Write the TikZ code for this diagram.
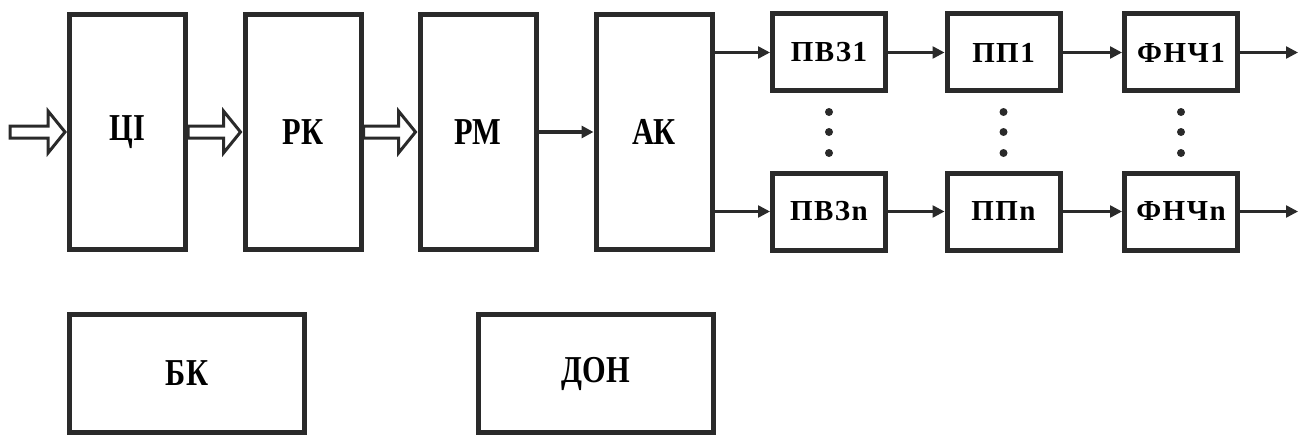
\documentclass[tikz,border=0pt]{standalone}
\usepackage{fontspec}
\setmainfont{Liberation Serif}
\newfontfamily\narrowserif[FakeStretch=0.8]{Liberation Serif}
\newfontfamily\wideserif[LetterSpace=5]{Liberation Serif}
\usetikzlibrary{arrows.meta,calc}
\definecolor{ink}{HTML}{2A2A2A}

% hollow (outlined) arrow between two points
\newcommand\hollowarrow[2]{%
  \draw[hollow] let \p1=(#1), \p2=(#2) in
    (\x1,\y1+6pt) -- (\x2-19pt,\y1+6pt) -- (\x2-19pt,\y1+21pt) -- (\x2-2pt,\y1)
    -- (\x2-19pt,\y1-21pt) -- (\x2-19pt,\y1-6pt) -- (\x1,\y1-6pt) -- cycle;}

\begin{document}
\begin{tikzpicture}[x=1pt,y=-1pt,
  block/.style={draw=ink,line width=5pt,inner sep=0pt,minimum width=116pt,
    minimum height=235pt,font=\narrowserif\fontsize{38}{40}\selectfont\bfseries},
  smallblock/.style={draw=ink,line width=5pt,inner sep=0pt,minimum width=113pt,
    minimum height=77pt,font=\wideserif\fontsize{29}{31}\selectfont\bfseries},
  lowblock/.style={draw=ink,line width=5pt,inner sep=0pt,minimum width=235pt,
    minimum height=118pt,font=\narrowserif\fontsize{38}{40}\selectfont\bfseries},
  line/.style={draw=ink,line width=2.5pt,-{Triangle[length=12pt,width=12pt]}},
  hollow/.style={draw=ink,line width=3pt,line join=miter,fill=white}]
\useasboundingbox (0,0) rectangle (1307,436);

% main chain
\node[block] (ci) at (127.5,132) {ЦІ};
\node[block] (rk) at (303,132) {РК};
\node[block] (rm) at (478,132) {РМ};
\node[block] (ak) at (654,132) {АК};

% channels
\node[smallblock] (pvz1) at (829,52.5) {ПВЗ1};
\node[smallblock] (pp1) at (1003.5,52.5) {ПП1};
\node[smallblock] (fnch1) at (1181,52.5) {ФНЧ1};
\node[smallblock] (pvzn) at (829,211.5) {ПВЗn};
\node[smallblock] (ppn) at (1003.5,211.5) {ППn};
\node[smallblock] (fnchn) at (1181,211.5) {ФНЧn};

% lower blocks
\node[lowblock] (bk) at (187,373.5) {БК};
\node[lowblock] (don) at (596,373.5) {ДОН};

\coordinate (in) at (10,132);
\coordinate (out1) at (1298,52.5);
\coordinate (outn) at (1298,211.5);

\hollowarrow{in}{ci.west}
\hollowarrow{ci.east}{rk.west}
\hollowarrow{rk.east}{rm.west}
\draw[line,line width=4pt] (rm) -- (ak);

\draw[line] (ak.east |- pvz1) -- (pvz1);
\draw[line] (ak.east |- pvzn) -- (pvzn);
\draw[line] (pvz1) -- (pp1);
\draw[line] (pp1) -- (fnch1);
\draw[line] (fnch1) -- (out1);
\draw[line] (pvzn) -- (ppn);
\draw[line] (ppn) -- (fnchn);
\draw[line] (fnchn) -- (outn);

% dots
\foreach \x in {829,1003.5,1181}
  \foreach \y in {112,132,153}
    \fill[ink] (\x,\y) circle (4pt);
\end{tikzpicture}
\end{document}
